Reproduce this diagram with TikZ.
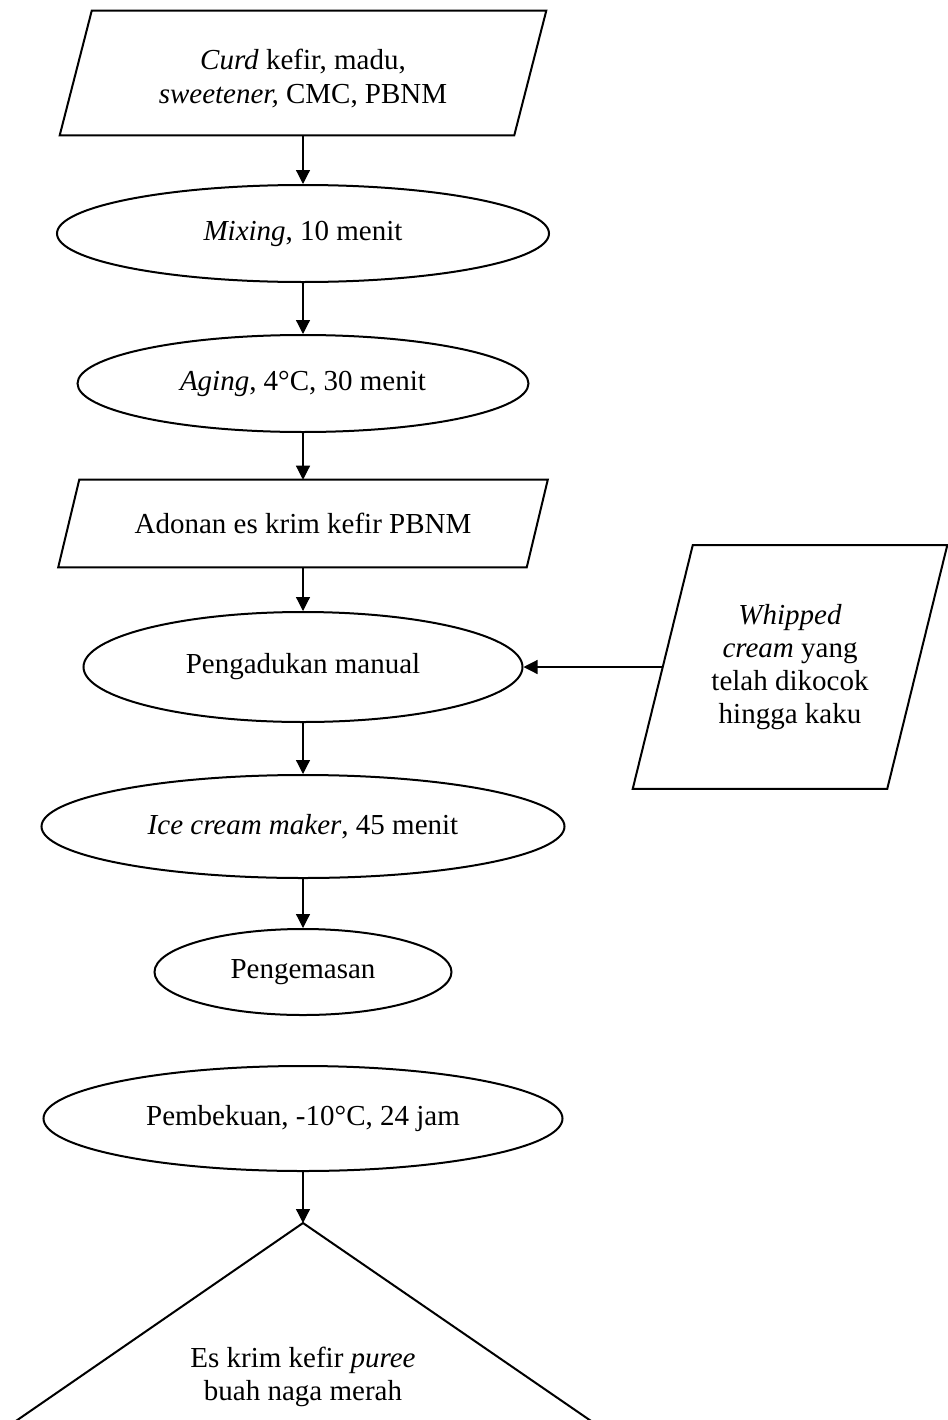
\documentclass[tikz,border=0pt]{standalone}
\usepackage{fontspec}
\setmainfont{Liberation Serif}
\usetikzlibrary{shapes.geometric,arrows.meta,calc}
\begin{document}
\begin{tikzpicture}[x=0.75pt,y=-0.75pt,
  font=\fontsize{21.75}{24.75}\selectfont,
  outline/.style={line width=1.5pt, line join=miter},
  proc/.style={ellipse, draw, line width=1.5pt, inner sep=0pt, align=center},
  iobox/.style={rectangle, draw=none, inner sep=0pt, align=center},
  flow/.style={-{Triangle[length=10.5pt,width=10.5pt]}, line width=0.9pt}]
\useasboundingbox (0,0) rectangle (947,1420);

% input parallelogram
\node[iobox, minimum width=364.5pt, minimum height=93pt] (in) at (303,73)
  {\raisebox{-5pt}[\height][\depth]{\begin{tabular}{@{}c@{}}\textit{Curd} kefir, madu,\\[1pt] \textit{sweetener,} CMC, PBNM\end{tabular}}};
\draw[outline] (in.south west) -- ($(in.north west)+(32,0)$) -- (in.north east)
  -- ($(in.south east)+(-32,0)$) -- cycle;

\node[proc, minimum width=369pt, minimum height=72.75pt] (mix) at (303,233.5)
  {\textit{Mixing}, 10 menit};
\node[proc, minimum width=338.25pt, minimum height=72.75pt] (age) at (303,383.5)
  {\textit{Aging}, 4°C, 30 menit};

\node[iobox, minimum width=366.75pt, minimum height=65.25pt] (ado) at (303,523.5)
  {Adonan es krim kefir PBNM};
\draw[outline] (ado.south west) -- ($(ado.north west)+(21,0)$) -- (ado.north east)
  -- ($(ado.south east)+(-21,0)$) -- cycle;

\node[proc, minimum width=329.25pt, minimum height=82.5pt] (pm) at (303,667)
  {Pengadukan manual};

\node[iobox, minimum width=235.5pt, minimum height=182.25pt] (wh) at (790,667)
  {\textit{Whipped}\\ \textit{cream} yang\\ telah dikocok\\ hingga kaku};
\draw[outline] (wh.south west) -- ($(wh.north west)+(60,0)$) -- (wh.north east)
  -- ($(wh.south east)+(-60,0)$) -- cycle;
\coordinate (whin) at ($(wh.west)+(30,0)$);

\node[proc, minimum width=392.25pt, minimum height=77.25pt] (icm) at (303,826.5)
  {\textit{Ice cream maker}, 45 menit};
\node[proc, minimum width=222.75pt, minimum height=64.5pt] (pk) at (303,972)
  {Pengemasan};
\node[proc, minimum width=389.25pt, minimum height=78.75pt] (pb) at (303,1118.5)
  {Pembekuan, -10°C, 24 jam};

\coordinate (apex) at (303,1223);
\draw[outline] (13,1423) -- (apex) -- (594,1423);
\node[align=center] (es) at (303,1377)
  {Es krim kefir \textit{puree}\\ buah naga merah};

\draw[flow] (in.south) -- (mix.north);
\draw[flow] (mix.south) -- (age.north);
\draw[flow] (age.south) -- (ado.north);
\draw[flow] (ado.south) -- (pm.north);
\draw[flow] (whin) -- (pm.east);
\draw[flow] (pm.south) -- (icm.north);
\draw[flow] (icm.south) -- (pk.north);
\draw[flow] (pb.south) -- (apex);
\end{tikzpicture}
\end{document}
